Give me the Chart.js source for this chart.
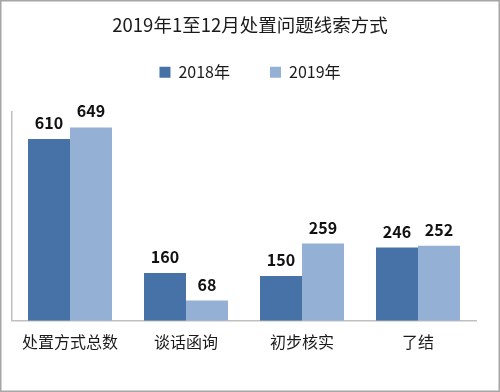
<!DOCTYPE html>
<html><head><meta charset="utf-8">
<script src="https://cdn.jsdelivr.net/npm/chart.js@4/dist/chart.umd.min.js"></script>
<style>html,body{margin:0;padding:0;background:#fff}#wrap{width:500px;height:392px}</style>
</head><body><div id="wrap"><canvas id="c" width="500" height="392"></canvas></div>
<script>
const titleText = '2019年1至12月处置问题线索方式';
const categories = ['处置方式总数', '谈话函询', '初步核实', '了结'];
const seriesNames = ['2018年', '2019年'];
const values2018 = [610, 160, 150, 246];
const values2019 = [649, 68, 259, 252];
const yMax = 700;

const FONT = '"Noto Sans CJK SC", "Noto Sans", sans-serif';

const bgBorder = {
  id: 'bgBorder',
  afterInit(chart) {
    const lg = chart.legend;
    if (lg) {
      const origFit = lg.fit;
      lg.fit = function () { origFit.apply(this, arguments); this.height = 88; };
    }
  },
  beforeDraw(chart) {
    const ctx = chart.ctx;
    ctx.save();
    ctx.fillStyle = '#fff';
    ctx.fillRect(0, 0, chart.width, chart.height);
    ctx.restore();
  },
  afterDraw(chart) {
    const ctx = chart.ctx;
    ctx.save();
    ctx.strokeStyle = '#a6a6a6';
    ctx.lineWidth = 1.5;
    ctx.strokeRect(0.75, 0.75, chart.width - 1.5, chart.height - 1.5);
    ctx.restore();
  }
};

const valueLabels = {
  id: 'valueLabels',
  afterDatasetsDraw(chart) {
    const ctx = chart.ctx;
    ctx.save();
    ctx.font = 'bold 16px ' + FONT;
    ctx.fillStyle = '#111';
    ctx.textAlign = 'center';
    ctx.textBaseline = 'middle';
    chart.data.datasets.forEach((ds, i) => {
      chart.getDatasetMeta(i).data.forEach((bar, j) => {
        ctx.fillText(String(ds.data[j]), bar.x, bar.y - 16);
      });
    });
    ctx.restore();
  }
};

new Chart(document.getElementById('c'), {
  type: 'bar',
  data: {
    labels: categories,
    datasets: [
      { label: seriesNames[0], data: values2018, backgroundColor: '#4672a8', borderWidth: 0 },
      { label: seriesNames[1], data: values2019, backgroundColor: '#95b0d5', borderWidth: 0 }
    ]
  },
  options: {
    responsive: false,
    devicePixelRatio: 1,
    animation: false,
    layout: { padding: { left: 0, right: 0, top: 0, bottom: 28 } },
    datasets: { bar: { categoryPercentage: 0.724, barPercentage: 1.0 } },
    plugins: {
      title: {
        display: true, text: titleText, color: '#1a1a1a',
        font: { family: FONT, size: 18.5, weight: 'normal' },
        padding: { top: 14, bottom: -12 }
      },
      legend: {
        display: true, position: 'top',
        labels: {
          boxWidth: 11, boxHeight: 11, padding: 40, color: '#1a1a1a',
          font: { family: FONT, size: 16 }
        }
      },
      tooltip: { enabled: false }
    },
    scales: {
      x: {
        grid: { display: false, drawTicks: false },
        border: { display: true, color: '#bfbfbf', width: 1.5 },
        ticks: { color: '#1a1a1a', padding: 12, font: { family: FONT, size: 16 }, maxRotation: 0 }
      },
      y: {
        min: 0, max: yMax,
        grid: { display: false, drawTicks: false },
        border: { display: true, color: '#bfbfbf', width: 1.5 },
        ticks: { display: false },
        afterFit(scale) { scale.width = 12; }
      },
      yRight: {
        position: 'right',
        grid: { display: false, drawTicks: false },
        border: { display: false },
        ticks: { display: false },
        afterFit(scale) { scale.width = 24; }
      }
    }
  },
  plugins: [bgBorder, valueLabels]
});
</script>
</body></html>
